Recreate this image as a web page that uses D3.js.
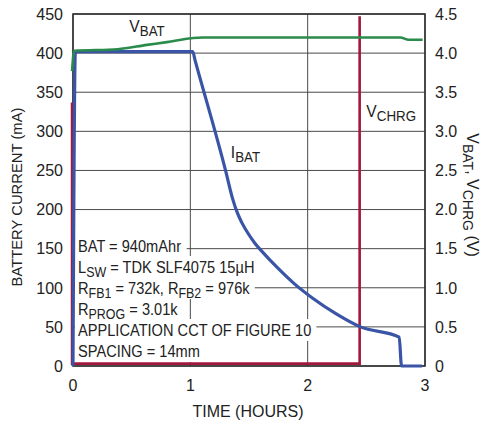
<!DOCTYPE html>
<html>
<head>
<meta charset="utf-8">
<script src="https://cdn.jsdelivr.net/npm/d3@7/dist/d3.min.js"></script>
<style>
    body { margin: 0; background: #fff; }
    svg text { font-family: "Liberation Sans", Arial, sans-serif; fill: #222; }
</style>
</head>
<body>
<svg width="489" height="423"></svg>
<script>
// battery current (mA) vs time (hours)
const ibatHours = [0, 0.02, 1.02, 1.04, 1.30, 1.36, 1.40, 1.44, 1.49, 1.55, 1.62, 1.74, 1.88, 2.04, 2.24, 2.45, 2.78, 2.80, 2.975];
const ibatMa    = [0, 402, 402, 391, 250, 214, 196, 183, 170, 157, 145, 126, 106, 87, 67, 50, 37, 0, 0];
// battery voltage (V)
const vbatHours = [-0.008, 0.01, 0.38, 0.63, 0.80, 1.01, 1.10, 2.79, 2.86, 2.98];
const vbatVolts = [3.77, 4.03, 4.05, 4.105, 4.14, 4.19, 4.20, 4.20, 4.17, 4.17];
// CHRG pin voltage (V)
const vchrgHours = [-0.008, -0.008, 2.443, 2.443];
const vchrgVolts = [3.37, 0.03, 0.03, 4.47];

const xTicks = [0, 1, 2, 3];
const mATicks = d3.range(0, 451, 50);
const voltTicks = d3.range(0, 4.51, 0.5);

// [text, isSubscript]
const notes = [
    [["BAT = 940mAhr"]],
    [["L"], ["SW", 1], [" = TDK SLF4075 15µH"]],
    [["R"], ["FB1", 1], [" = 732k, R"], ["FB2", 1], [" = 976k"]],
    [["R"], ["PROG", 1], [" = 3.01k"]],
    [["APPLICATION CCT OF FIGURE 10"]],
    [["SPACING = 14mm"]]
];

const svg = d3.select("svg"),
    margin = {top: 14, right: 64, bottom: 57, left: 73},
    width = 489 - margin.left - margin.right,
    height = 423 - margin.top - margin.bottom;

const x = d3.scaleLinear().domain([0, 3]).range([0, width]),
    yI = d3.scaleLinear().domain([0, 450]).range([height, 0]),
    yV = d3.scaleLinear().domain([0, 4.5]).range([height, 0]);

const g = svg.append("g")
    .attr("transform", "translate(" + margin.left + "," + margin.top + ")");

// grid
g.selectAll(".hgrid").data(mATicks).enter().append("line")
    .attr("x1", 0).attr("x2", width)
    .attr("y1", d => yI(d)).attr("y2", d => yI(d))
    .attr("stroke", "#4a4a4a").attr("stroke-width", 1);
g.selectAll(".vgrid").data(xTicks).enter().append("line")
    .attr("x1", d => x(d)).attr("x2", d => x(d))
    .attr("y1", 0).attr("y2", height)
    .attr("stroke", "#4a4a4a").attr("stroke-width", 1);

// frame
g.append("rect")
    .attr("width", width).attr("height", height)
    .attr("fill", "none").attr("stroke", "#2a2a2a").attr("stroke-width", 1.5);

// tick labels
g.selectAll(".lt").data(mATicks).enter().append("text")
    .attr("x", -10).attr("y", d => yI(d)).attr("dy", "0.36em")
    .attr("text-anchor", "end").style("font-size", "16px")
    .text(d => d);
g.selectAll(".rt").data(voltTicks).enter().append("text")
    .attr("x", width + 10).attr("y", d => yV(d)).attr("dy", "0.36em")
    .style("font-size", "16px")
    .text(d => d === 0 ? "0" : d.toFixed(1));
g.selectAll(".bt").data(xTicks).enter().append("text")
    .attr("x", d => x(d)).attr("y", height + 25)
    .attr("text-anchor", "middle").style("font-size", "16px")
    .text(d => d);

// axis titles
g.append("text")
    .attr("transform", "translate(-51," + (height / 2 + 7) + ") rotate(-90)")
    .attr("text-anchor", "middle").style("font-size", "14.8px")
    .text("BATTERY CURRENT (mA)");
g.append("text")
    .attr("x", width / 2 - 1).attr("y", height + 51)
    .attr("text-anchor", "middle").style("font-size", "16px")
    .text("TIME (HOURS)");
const rtitle = g.append("text")
    .attr("transform", "translate(" + (width + 42) + "," + (height / 2 + 5) + ") rotate(90)")
    .attr("text-anchor", "middle").style("font-size", "16px");
rtitle.append("tspan").text("V");
rtitle.append("tspan").attr("dy", 4).style("font-size", "14px").text("BAT");
rtitle.append("tspan").attr("dy", -4).text(", V");
rtitle.append("tspan").attr("dy", 4).style("font-size", "14px").text("CHRG");
rtitle.append("tspan").attr("dy", -4).text(" (V)");

// notes with white backing, slightly condensed
const squeeze = 0.86;
const noteG = g.append("g");
notes.forEach(function (parts, i) {
    const base = 238 + i * 21;
    const bg = noteG.append("rect").attr("fill", "#fff");
    const t = noteG.append("text")
        .attr("transform", "translate(5," + base + ") scale(" + squeeze + ",1)")
        .style("font-size", "17px");
    let prevSub = false;
    parts.forEach(function (p) {
        const s = t.append("tspan").text(p[0]);
        if (p[1]) { s.attr("dy", 4).style("font-size", "14.5px"); prevSub = true; }
        else if (prevSub) { s.attr("dy", -4); prevSub = false; }
    });
    const bb = t.node().getBBox();
    bg.attr("x", 2).attr("y", base - 17)
        .attr("width", 3 + (bb.x + bb.width) * squeeze + 5).attr("height", 22);
});

// series
const lineI = d3.line().curve(d3.curveMonotoneX)
    .x((d, i) => x(ibatHours[i])).y(d => yI(d));
const lineV = d3.line().curve(d3.curveMonotoneX)
    .x((d, i) => x(vbatHours[i])).y(d => yV(d));
const lineC = d3.line()
    .x((d, i) => x(vchrgHours[i])).y(d => yV(d));

g.append("path").attr("d", lineC(vchrgVolts))
    .attr("fill", "none").attr("stroke", "#a3173c").attr("stroke-width", 2.6);
g.append("path").attr("d", lineI(ibatMa))
    .attr("fill", "none").attr("stroke", "#3a55a6").attr("stroke-width", 3.2)
    .attr("stroke-linejoin", "round");
g.append("path").attr("d", lineV(vbatVolts))
    .attr("fill", "none").attr("stroke", "#2b8b4b").attr("stroke-width", 2.6);

// series labels
function label(xp, yp, main, sub) {
    const t = g.append("text")
        .attr("transform", "translate(" + xp + "," + yp + ") scale(0.92,1)")
        .style("font-size", "17px");
    t.append("tspan").text(main);
    t.append("tspan").attr("dy", 4).style("font-size", "14.5px").text(sub);
}
label(x(0.48), 18, "V", "BAT");
label(x(1.345), 144, "I", "BAT");
label(x(2.5), 103, "V", "CHRG");
</script>
</body>
</html>
